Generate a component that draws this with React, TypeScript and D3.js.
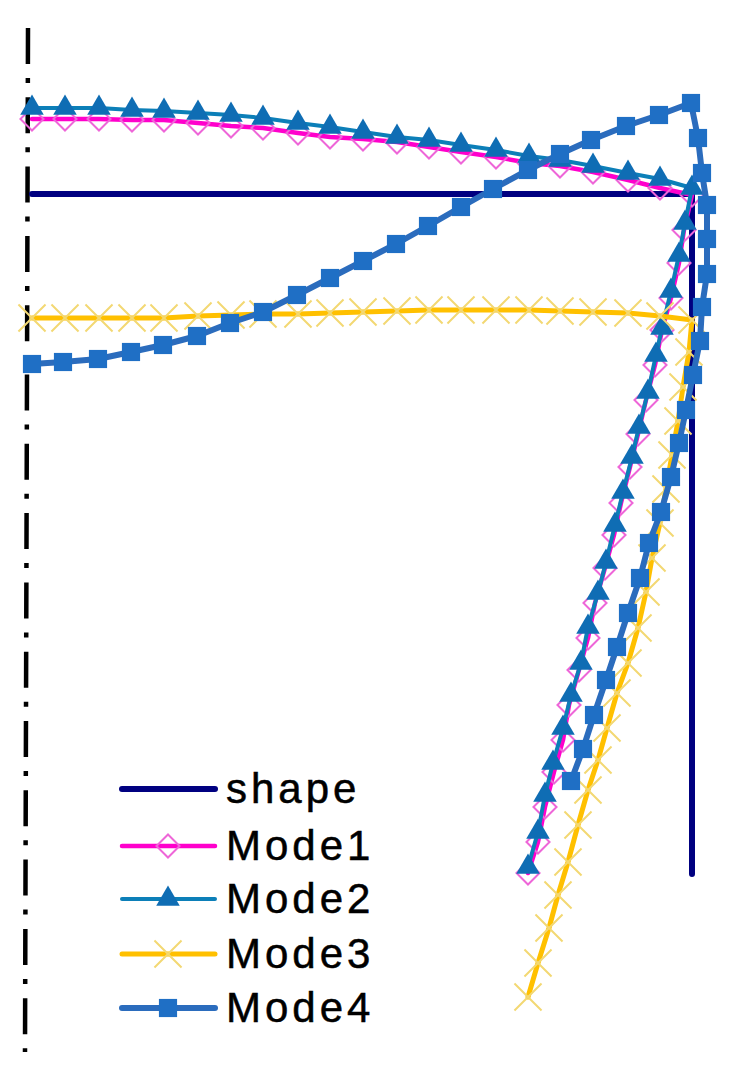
import React from "react";
import * as d3 from "d3";

const WIDTH = 734;
const HEIGHT = 1075;

// section outline and mode shapes
const shapeX = [2, 662, 662];
const shapeY = [680, 680, 0];

const mode1X = [2, 35, 69, 102, 134, 168, 201, 233, 268, 300, 333, 367, 399, 431, 466, 499, 530, 563, 598, 630, 662, 654, 649, 641, 632, 625, 616, 608, 600, 591, 584, 575, 565, 558, 549, 539, 533, 524, 515, 508, 498];
const mode1Y = [755, 755, 755, 754, 754, 751, 748, 746, 741, 737, 735, 732, 727, 722, 717, 711, 708, 702, 694, 686, 679, 644, 611, 576, 544, 509, 474, 440, 407, 371, 339, 306, 271, 236, 204, 169, 134, 102, 67, 32, 1];

const mode2X = [2, 35, 69, 102, 134, 168, 201, 233, 268, 300, 333, 367, 399, 431, 466, 499, 530, 563, 598, 630, 662, 655, 649, 641, 632, 626, 618, 609, 602, 593, 585, 576, 568, 558, 551, 541, 533, 523, 515, 508, 498];
const mode2Y = [766, 766, 766, 764, 763, 761, 759, 756, 751, 747, 742, 737, 734, 729, 724, 718, 714, 708, 701, 695, 686, 651, 619, 583, 546, 519, 482, 447, 417, 382, 349, 312, 281, 247, 211, 179, 146, 111, 79, 42, 7];

const mode3X = [2, 35, 69, 102, 134, 168, 201, 233, 268, 300, 333, 367, 399, 431, 466, 499, 530, 563, 598, 630, 662, 659, 653, 648, 642, 636, 630, 622, 616, 608, 598, 587, 577, 568, 558, 548, 538, 528, 519, 508, 498];
const mode3Y = [556, 556, 556, 556, 556, 558, 559, 560, 560, 561, 562, 563, 564, 564, 564, 564, 563, 562, 561, 558, 554, 522, 487, 453, 419, 385, 351, 316, 282, 246, 211, 181, 146, 114, 84, 49, 12, -21, -54, -89, -123];

const mode4X = [2, 33, 68, 101, 133, 167, 200, 233, 267, 300, 333, 366, 398, 431, 463, 498, 530, 561, 596, 629, 661, 668, 672, 677, 677, 677, 672, 670, 663, 656, 649, 641, 631, 619, 610, 598, 587, 576, 564, 553, 541];
const mode4Y = [510, 512, 515, 522, 529, 538, 551, 562, 579, 596, 613, 630, 648, 667, 685, 704, 720, 734, 748, 759, 771, 736, 701, 669, 635, 600, 567, 533, 499, 464, 431, 397, 362, 331, 296, 261, 227, 194, 159, 125, 93];

const legendLabels = ["shape", "Mode1", "Mode2", "Mode3", "Mode4"];

const xScale = d3.scaleLinear().domain([0, 662]).range([30, 692]);
const yScale = d3.scaleLinear().domain([0, 680]).range([874, 194]);

const lineGen = d3
  .line<[number, number]>()
  .x((d) => xScale(d[0]))
  .y((d) => yScale(d[1]));

const zip = (xs: number[], ys: number[]) =>
  xs.map((x, i) => [x, ys[i]] as [number, number]);

const series = [
  { name: "shape", pts: zip(shapeX, shapeY), color: "#000080", width: 6, legendY: 789 },
  {
    name: "Mode1",
    pts: zip(mode1X, mode1Y),
    color: "#ff00cc",
    width: 4.5,
    legendY: 846,
    symbol: d3.symbolDiamond2,
    size: 340,
    fill: "none",
    stroke: "#ee66d8",
  },
  {
    name: "Mode2",
    pts: zip(mode2X, mode2Y),
    color: "#0c7fb8",
    width: 4,
    legendY: 899,
    symbol: d3.symbolTriangle,
    size: 240,
    fill: "#0f6db4",
    stroke: "none",
  },
  {
    name: "Mode3",
    pts: zip(mode3X, mode3Y),
    color: "#ffc000",
    width: 5,
    legendY: 954,
    symbol: d3.symbolTimes,
    size: 480,
    fill: "none",
    stroke: "#f3d873",
  },
  {
    name: "Mode4",
    pts: zip(mode4X, mode4Y),
    color: "#2b6cbd",
    width: 6,
    legendY: 1008,
    symbol: d3.symbolSquare,
    size: 330,
    fill: "#1f6fc5",
    stroke: "none",
  },
];

function Marker({ s, x, y }: { s: any; x: number; y: number }) {
  if (!s.symbol) return null;
  const d = d3.symbol(s.symbol, s.size)() || "";
  return (
    <path
      d={d}
      transform={`translate(${x},${y})`}
      fill={s.fill}
      stroke={s.stroke}
      strokeWidth={2}
    />
  );
}

export default function App() {
  return (
    <svg
      width={WIDTH}
      height={HEIGHT}
      style={{ position: "absolute", left: 0, top: 0, display: "block", background: "#fff" }}
    >
      {/* symmetry axis */}
      <line
        x1={28}
        y1={28}
        x2={25}
        y2={1052}
        stroke="#000"
        strokeWidth={4.5}
        strokeDasharray="36 14 5 14.3"
      />

      {series.map((s) => (
        <g key={s.name}>
          <path
            d={lineGen(s.pts) || ""}
            fill="none"
            stroke={s.color}
            strokeWidth={s.width}
            strokeLinejoin="round"
            strokeLinecap="round"
          />
          {s.pts.map((p, i) => (
            <Marker key={i} s={s} x={xScale(p[0])} y={yScale(p[1])} />
          ))}
        </g>
      ))}

      {/* legend */}
      {series.map((s, i) => (
        <g key={s.name}>
          <line
            x1={122}
            x2={215}
            y1={s.legendY}
            y2={s.legendY}
            stroke={s.color}
            strokeWidth={s.width}
            strokeLinecap="round"
          />
          <Marker s={s} x={168} y={s.legendY} />
          <text
            x={226}
            y={s.legendY + 14}
            fontFamily="'Liberation Sans', Arial, sans-serif"
            fontSize={42}
            letterSpacing={4}
            fill="#000"
            stroke="#000"
            strokeWidth={0.5}
          >
            {legendLabels[i]}
          </text>
        </g>
      ))}
    </svg>
  );
}
